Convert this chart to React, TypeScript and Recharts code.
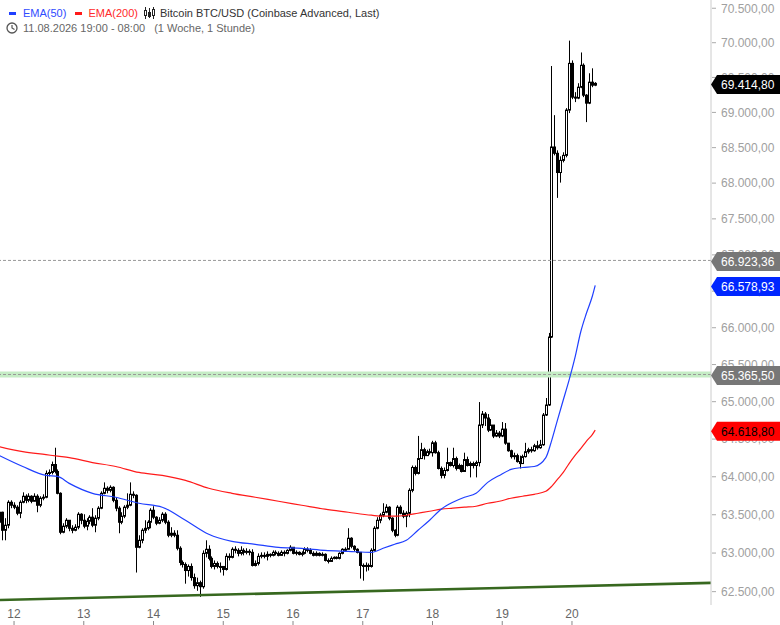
import { ComposedChart, Bar, Line, XAxis, YAxis, ReferenceLine } from "recharts";

const FONT = '"Liberation Sans", Arial, sans-serif';

// hourly candles from 11.08. 19:00 to 20.08. 08:00 (open = previous close)
const firstOpen = 63402;
const closes = [
    63533, 63297, 63363, 63664, 63625, 63599, 63520, 63664, 63743, 63690,
    63743, 63677, 63743, 63625, 63717, 63730, 64044, 64057, 64162, 64070,
    63782, 63271, 63350, 63428, 63323, 63297, 63337, 63507, 63428, 63350,
    63415, 63468, 63363, 63455, 63586, 63782, 63848, 63821, 63861, 63690,
    63586, 63402, 63481, 63599, 63625, 63769, 63756, 63075, 63166, 63297,
    63323, 63402, 63559, 63468, 63389, 63428, 63507, 63402, 63232, 63258,
    63232, 63062, 62878, 62852, 62773, 62826, 62682, 62577, 62616, 62564,
    62996, 63049, 62931, 62826, 62865, 62826, 62826, 62787, 62957, 62944,
    63049, 63035, 62996, 63035, 63009, 63022, 63009, 62839, 62865, 62957,
    62970, 62957, 62983, 62970, 63009, 62996, 62970, 63009, 62996, 63035,
    63075, 62996, 63009, 62983, 62996, 63049, 63035, 62996, 62970, 62996,
    62970, 62983, 62904, 62891, 62931, 62944, 62931, 62996, 63049, 63049,
    63193, 63088, 63049, 63009, 62839, 62826, 62839, 62826, 63035, 63323,
    63428, 63494, 63533, 63599, 63455, 63297, 63232, 63599, 63520, 63481,
    63520, 63821, 64123, 64044, 64241, 64359, 64280, 64332, 64319, 64450,
    64319, 64110, 64018, 64083, 64188, 64149, 64241, 64110, 64149, 64070,
    64228, 64149, 64175, 64149, 64188, 64687, 64834, 64781, 64620, 64687,
    64540, 64580, 64540, 64633, 64446, 64345, 64267, 64280, 64201, 64175,
    64267, 64332, 64359, 64345, 64411, 64385, 64424, 64821, 64955, 65873,
    68509, 68420, 68149, 68320, 68391, 69033, 69702, 69218, 69204, 69360,
    69674, 69246, 69132, 69432, 69389, 69414.8,
];
const highs = [
    63559, 63540, 63455, 63690, 63690, 63664, 63625, 63690, 63795, 63769,
    63782, 63756, 63782, 63769, 63743, 63769, 64083, 64097, 64201, 64385,
    64097, 63795, 63389, 63455, 63428, 63363, 63376, 63533, 63520, 63507,
    63455, 63494, 63586, 63494, 63612, 63808, 63926, 63874, 63887, 63874,
    63730, 63612, 63533, 63625, 63782, 63926, 63808, 63769, 63232, 63323,
    63428, 63428, 63586, 63612, 63481, 63468, 63533, 63533, 63428, 63337,
    63297, 63297, 63088, 62904, 62878, 62852, 62865, 62734, 62681, 62642,
    63035, 63166, 63101, 62957, 62904, 62891, 62878, 62826, 62996, 62996,
    63075, 63088, 63062, 63088, 63062, 63062, 63049, 63049, 62904, 62996,
    63009, 63009, 63022, 62996, 63035, 63035, 63022, 63035, 63035, 63049,
    63101, 63075, 63035, 63022, 63022, 63075, 63075, 63062, 63022, 63022,
    63009, 63009, 62996, 62931, 62957, 62957, 62957, 63009, 63062, 63075,
    63324, 63206, 63101, 63062, 63009, 62865, 62878, 62865, 63062, 63350,
    63468, 63520, 63651, 63638, 63612, 63468, 63310, 63625, 63625, 63559,
    63546, 63848, 64149, 64149, 64542, 64450, 64385, 64359, 64372, 64477,
    64477, 64345, 64136, 64123, 64385, 64201, 64385, 64267, 64175, 64162,
    64319, 64267, 64201, 64201, 64214, 64995, 64875, 64861, 64834, 64767,
    64687, 64620, 64607, 64727, 64714, 64437, 64359, 64319, 64306, 64280,
    64293, 64450, 64385, 64398, 64437, 64477, 64490, 64848, 65049, 65929,
    69664, 68961, 68462, 68377, 68434, 69061, 70030, 69745, 69289, 69417,
    69859, 69702, 69261, 69560, 69631, 69432,
];
const lows = [
    63376, 63166, 63166, 63323, 63586, 63573, 63494, 63455, 63651, 63651,
    63664, 63651, 63690, 63533, 63599, 63690, 63717, 64005, 64031, 64044,
    63769, 63245, 63258, 63323, 63284, 63258, 63284, 63310, 63376, 63323,
    63297, 63376, 63337, 63271, 63428, 63573, 63769, 63782, 63795, 63664,
    63546, 63258, 63376, 63455, 63573, 63612, 63717, 62747, 63062, 63127,
    63258, 63297, 63323, 63442, 63363, 63376, 63402, 63376, 63206, 63206,
    63206, 63035, 62839, 62812, 62603, 62695, 62642, 62538, 62511, 62433,
    62538, 62944, 62904, 62800, 62787, 62800, 62747, 62708, 62773, 62904,
    62931, 62996, 62957, 62970, 62970, 62983, 62970, 62826, 62826, 62839,
    62931, 62931, 62904, 62944, 62957, 62970, 62957, 62970, 62957, 62983,
    63022, 62983, 62970, 62970, 62957, 62983, 63009, 62983, 62957, 62957,
    62957, 62957, 62891, 62865, 62904, 62918, 62918, 62918, 62983, 63022,
    63049, 63062, 63022, 62996, 62669, 62642, 62760, 62773, 62812, 63022,
    63310, 63389, 63468, 63520, 63428, 63271, 63206, 63219, 63507, 63455,
    63337, 63468, 63795, 64018, 64031, 64241, 64228, 64306, 64293, 64267,
    64306, 64097, 63979, 63979, 64070, 64136, 64123, 64083, 64097, 64057,
    64083, 64136, 63992, 64110, 63992, 64136, 64647, 64674, 64593, 64607,
    64513, 64526, 64513, 64526, 64424, 64332, 64241, 64228, 64188, 64110,
    64175, 64254, 64306, 64319, 64332, 64359, 64372, 64411, 64808, 64942,
    65860, 68391, 67793, 68007, 68292, 68363, 68990, 69189, 69147, 69189,
    69346, 69218, 68862, 69118, 69360, 69375,
];

// moving averages (hour index -> value)
const emaHours = [
    0, 8, 16, 20, 24, 32, 40, 48, 56, 64, 72, 80, 88, 96, 104, 112, 120, 128,
    132, 136, 140, 144, 148, 152, 156, 160, 164, 168, 172, 176, 180, 184, 188,
    190, 192, 194, 196, 198, 200, 202, 204, 205,
];
const ema50 = [
    64280, 64136, 64018, 64005, 63913, 63782, 63730, 63651, 63599, 63428, 63245, 63153, 63114, 63075, 63062, 63035, 63022, 63009,
    63062, 63114, 63166, 63297, 63428, 63573, 63664, 63730, 63782, 63926, 64018, 64097, 64123, 64136, 64254,
    64480, 64754, 65022, 65290, 65589, 65942, 66201, 66430, 66578.93,
];
const ema200 = [
    64398, 64332, 64293, 64273, 64254, 64188, 64136, 64057, 64018, 63952, 63848, 63782, 63730, 63677, 63625, 63573, 63533, 63494,
    63481, 63481, 63494, 63520, 63546, 63573, 63586, 63599, 63612, 63651, 63677, 63717, 63743, 63769, 63808,
    63874, 63966, 64057, 64175, 64280, 64372, 64473, 64560, 64618.8,
];

const dayHours = [5, 29, 53, 77, 101, 125, 149, 173, 197];
const dayLabels = ["12", "13", "14", "15", "16", "17", "18", "19", "20"];
const yTicks = [62500, 63000, 63500, 64000, 64500, 65000, 65500, 66000, 66500, 67000, 67500, 68000, 68500, 69000, 69500, 70000, 70500];

const lastPrice = 69414.8;
const resistance = 66923.36;
const support = 65365.5;
const ema50Last = 66578.93;
const ema200Last = 64618.8;
const trendStart = 62393;
const trendEnd = 62613;

// price tags on the right axis
const tagValues = [support, ema200Last, ema50Last, resistance, lastPrice];
const tagFills = ["#777", "#ff0000", "#0026ff", "#777", "#000"];
const tagTexts = ["#fff", "#000", "#fff", "#fff", "#fff"];

const X_MIN = 0.17;
const X_MAX = 244.84;
const Y_MIN = 62328;
const Y_MAX = 70620;

function fmtDe(v: number) {
    const [int, dec] = v.toFixed(2).split(".");
    return int.replace(/\B(?=(\d{3})+(?!\d))/g, ".") + "," + dec;
}

const candles = closes.map((c, i) => {
    const open = i === 0 ? firstOpen : closes[i - 1];
    const high = Math.max(highs[i], open, c);
    const low = Math.min(lows[i], open, c);
    return { i, open, close: c, high, low, range: [low, high] };
});

const emaRows = emaHours.map((h, k) => ({ i: h, ema50: ema50[k], ema200: ema200[k] }));

function Candle(props: any) {
    const { x, y, width, height, payload } = props;
    if (!payload || !isFinite(x) || !isFinite(y)) return null;
    const top = Math.min(y, y + height);
    const bot = Math.max(y, y + height);
    const cx = Math.round(x + width / 2) + 0.5;
    const lh = Math.log(payload.high);
    const ll = Math.log(payload.low);
    // same log mapping as the axis, inside the high/low span
    const toY = (v: number) => (lh - ll > 0 ? top + ((bot - top) * (lh - Math.log(v))) / (lh - ll) : top);
    const yo = toY(payload.open);
    const yc = toY(payload.close);
    const up = payload.close >= payload.open;
    const bTop = Math.min(yo, yc);
    const bH = Math.max(Math.abs(yo - yc), 1);
    return (
        <g>
            <line x1={cx} x2={cx} y1={top} y2={bot} stroke="#000" strokeWidth={1} />
            <rect x={cx - 1} y={bTop} width={2} height={bH} fill={up ? "#fff" : "#000"} stroke="#000" strokeWidth={1} />
        </g>
    );
}

// y axis tick: plain label for grid values, arrow tag for the marked prices
const PriceTick = (props: any) => {
    const { x, y, payload } = props;
    const v = payload.value;
    const axisX = x - 10;
    const k = tagValues.indexOf(v);
    if (k >= 0) {
        const cy = y + 1;
        return (
            <g>
                <polygon
                    points={`${axisX},${cy} ${axisX + 6},${cy - 9.5} 780,${cy - 9.5} 780,${cy + 9.5} ${axisX + 6},${cy + 9.5}`}
                    fill={tagFills[k]}
                />
                <text x={axisX + 10} y={cy + 4.5} fontSize={12} fill={tagTexts[k]} fontFamily={FONT}>
                    {fmtDe(v)}
                </text>
            </g>
        );
    }
    return (
        <g>
            <line x1={axisX + 1} x2={axisX + 5} y1={y} y2={y} stroke="#aaa" />
            <text x={x} y={y + 4.3} fontSize={12} fill="#a0a0a0" fontFamily={FONT}>
                {fmtDe(v)}
            </text>
        </g>
    );
};

const DayTick = (props: any) => {
    const { x, payload } = props;
    const k = dayHours.indexOf(payload.value);
    return (
        <g>
            <text x={x} y={618} textAnchor="middle" fontSize={12} fill="#666" fontFamily={FONT}>
                {dayLabels[k]}
            </text>
            <line x1={x} x2={x} y1={621} y2={625} stroke="#888" />
        </g>
    );
};

function CandleIcon() {
    return (
        <svg width="11" height="12" style={{ display: "block" }}>
            <line x1="1.5" x2="1.5" y1="0" y2="12" stroke="#222" />
            <rect x="0.5" y="3.5" width="2" height="5" fill="#fff" stroke="#222" />
            <line x1="5.5" x2="5.5" y1="1" y2="11" stroke="#222" />
            <rect x="4.5" y="5.5" width="2" height="4" fill="#222" stroke="#222" />
            <line x1="9.5" x2="9.5" y1="0" y2="12" stroke="#222" />
            <rect x="8.5" y="2.5" width="2" height="6" fill="#fff" stroke="#222" />
        </svg>
    );
}

function ClockIcon() {
    return (
        <svg width="12" height="12" style={{ display: "block" }}>
            <circle cx="6" cy="6" r="5" fill="none" stroke="#555" strokeWidth="1.3" />
            <polyline points="6,3 6,6 8.5,7.5" fill="none" stroke="#555" strokeWidth="1.2" />
        </svg>
    );
}

export default function App() {
    return (
        <div style={{ position: "absolute", left: 0, top: 0, width: 780, height: 625, background: "#fff" }}>
            <ComposedChart
                width={780}
                height={625}
                data={candles}
                margin={{ top: 0, right: 0, bottom: 0, left: 0 }}
                style={{ fontFamily: FONT }}
            >
                <XAxis
                    type="number"
                    dataKey="i"
                    domain={[X_MIN, X_MAX]}
                    allowDataOverflow
                    ticks={dayHours}
                    interval={0}
                    tick={<DayTick />}
                    tickLine={false}
                    axisLine={false}
                    height={20}
                />
                <YAxis
                    orientation="right"
                    type="number"
                    scale="log"
                    domain={[Y_MIN, Y_MAX]}
                    allowDataOverflow
                    ticks={[...yTicks, ...tagValues]}
                    interval={0}
                    width={69}
                    tick={<PriceTick />}
                    tickSize={5}
                    tickMargin={5}
                    tickLine={false}
                    axisLine={{ stroke: "#ccc" }}
                />

                <ReferenceLine y={support} stroke="#c5ecc5" strokeWidth={6} />
                <ReferenceLine y={support} stroke="#999" strokeDasharray="3 2" />
                <ReferenceLine y={resistance} stroke="#999" strokeDasharray="3 2" />
                <ReferenceLine
                    segment={[{ x: X_MIN, y: trendStart }, { x: X_MAX, y: trendEnd }]}
                    stroke="#37681f"
                    strokeWidth={2.6}
                    ifOverflow="visible"
                />

                <Line data={emaRows} dataKey="ema200" type="monotone" stroke="#ff1a1a" strokeWidth={1.2} dot={false} isAnimationActive={false} />
                <Line data={emaRows} dataKey="ema50" type="monotone" stroke="#1f3fff" strokeWidth={1.2} dot={false} isAnimationActive={false} />

                <Bar dataKey="range" barSize={3} shape={(p: any) => <Candle {...p} />} isAnimationActive={false} />
            </ComposedChart>

            <div style={{ position: "absolute", left: 0, top: 0, fontFamily: FONT, fontSize: 11, lineHeight: "16px", whiteSpace: "nowrap" }}>
                <div style={{ position: "absolute", top: 5, left: 9, display: "flex", alignItems: "center", height: 16 }}>
                    <span style={{ display: "inline-block", width: 7, height: 3, background: "#1f3fff", marginRight: 7 }} />
                    <span style={{ color: "#2f4bff" }}>EMA(50)</span>
                    <span style={{ display: "inline-block", width: 7, height: 3, background: "#ff1a1a", marginLeft: 9, marginRight: 6 }} />
                    <span style={{ color: "#ff2a2a" }}>EMA(200)</span>
                    <span style={{ marginLeft: 6, marginRight: 5 }}>
                        <CandleIcon />
                    </span>
                    <span style={{ color: "#333" }}>Bitcoin BTC/USD (Coinbase Advanced, Last)</span>
                </div>
                <div style={{ position: "absolute", top: 20, left: 6, display: "flex", alignItems: "center", height: 16, color: "#666" }}>
                    <span style={{ marginRight: 5 }}>
                        <ClockIcon />
                    </span>
                    <span>11.08.2026 19:00 - 08:00</span>
                    <span style={{ marginLeft: 9 }}>(1 Woche, 1 Stunde)</span>
                </div>
            </div>
        </div>
    );
}
